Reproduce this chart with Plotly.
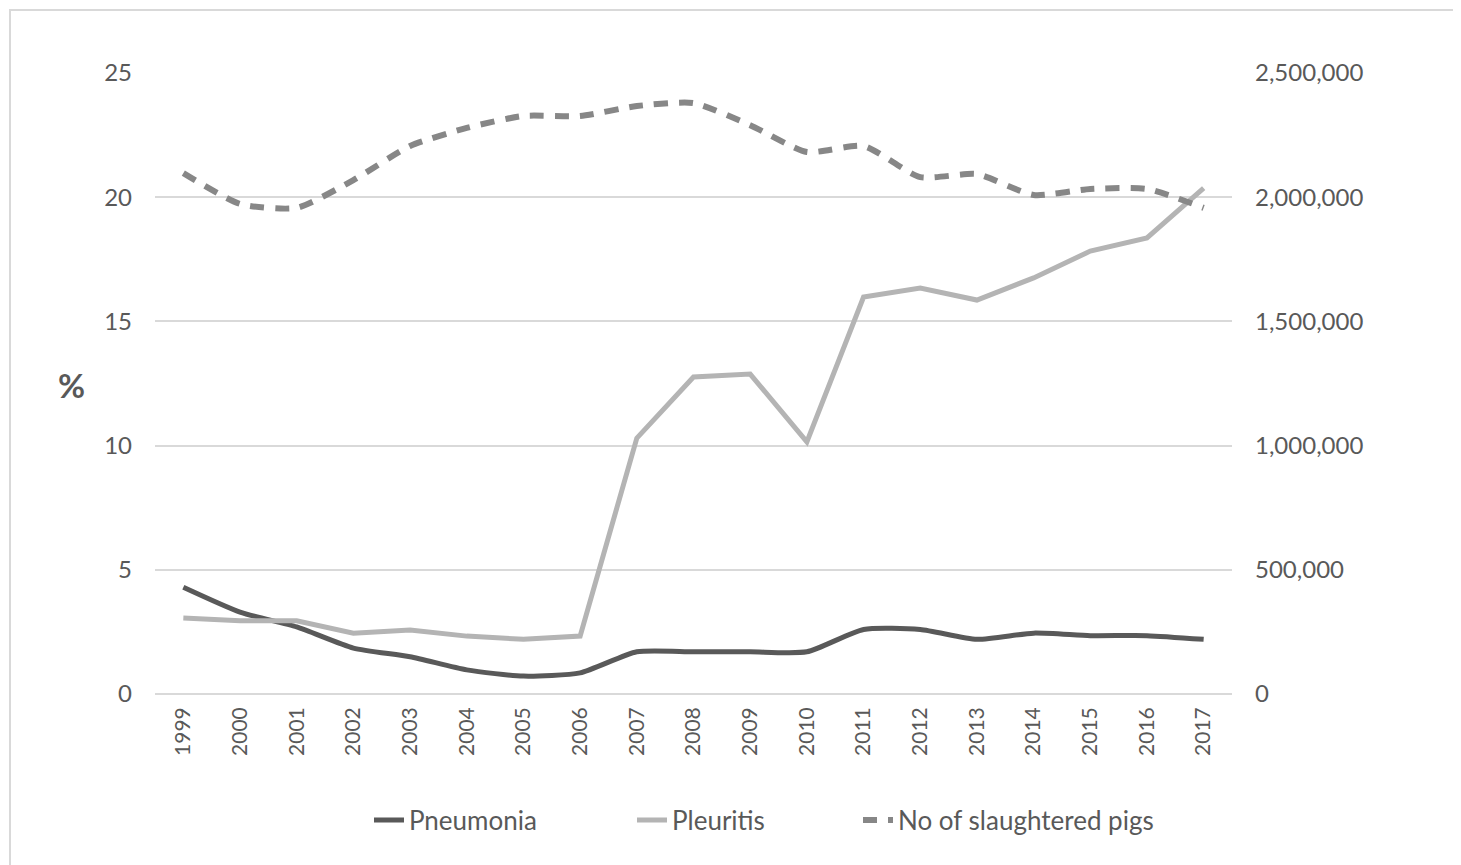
import plotly.graph_objects as go

years = [str(y) for y in range(1999, 2018)]
pneumonia = [4.3, 3.3, 2.7, 1.85, 1.5, 0.97, 0.72, 0.85, 1.7, 1.7, 1.7, 1.7, 2.6, 2.6, 2.2, 2.45, 2.35, 2.35, 2.2]
pleuritis = [3.06, 2.95, 2.95, 2.45, 2.58, 2.33, 2.2, 2.33, 10.3, 12.76, 12.88, 10.15, 15.98, 16.34, 15.86, 16.75, 17.83, 18.36, 20.37]
slaughtered = [2097000, 1973000, 1957000, 2069000, 2206000, 2279000, 2327000, 2327000, 2367000, 2379000,
               2290000, 2182000, 2206000, 2081000, 2093000, 2009000, 2033000, 2033000, 1957000]

OFF = 8  # page body margin
W, H = 1461 - OFF, 865 - OFF
L, R, T, B = 155 - OFF, 1232 - OFF, 73 - OFF, 694 - OFF
pw, ph = R - L, B - T

font = "Lato, 'Open Sans', sans-serif"
txt = "#595959"


def px2x(p):
    return (p - OFF - L) / pw


def py2y(p):
    return (B - (p - OFF)) / ph


fig = go.Figure()
fig.add_trace(go.Scatter(x=years, y=pneumonia, name="Pneumonia", mode="lines", legend="legend",
                         line=dict(color="#595959", width=5, shape="spline", smoothing=0.6)))
fig.add_trace(go.Scatter(x=years, y=pleuritis, name="Pleuritis", mode="lines", legend="legend2",
                         line=dict(color="#b4b4b4", width=5)))
fig.add_trace(go.Scatter(x=years, y=slaughtered, name="No of slaughtered pigs", mode="lines", yaxis="y2",
                         legend="legend3",
                         line=dict(color="#878787", width=6, dash="14px,11px", shape="spline", smoothing=0.6)))

leg_common = dict(orientation="h", xanchor="left", yanchor="middle", y=py2y(820),
                  font=dict(size=26, color=txt), bgcolor="rgba(0,0,0,0)")

fig.update_layout(
    width=W, height=H,
    margin=dict(l=L, r=W - R, t=T, b=H - B, autoexpand=False),
    paper_bgcolor="white", plot_bgcolor="white",
    font=dict(family=font, color=txt, size=24),
    showlegend=True,
    legend=dict(x=px2x(369), **leg_common),
    legend2=dict(x=px2x(632), **leg_common),
    legend3=dict(x=px2x(858), **leg_common),
    xaxis=dict(type="category", range=[-0.5, 18.5], tickangle=-90, showgrid=False,
               tickfont=dict(size=21, color=txt), ticks="", showline=False, zeroline=False,
               ticklabelstandoff=8),
    yaxis=dict(range=[0, 25], dtick=5, tick0=0, showgrid=True, gridcolor="#d9d9d9", gridwidth=2,
               zeroline=True, zerolinecolor="#d9d9d9", zerolinewidth=2, showline=False, ticks="",
               tickfont=dict(size=24, color=txt), ticklabelstandoff=22),
    yaxis2=dict(range=[0, 2500000], dtick=500000, tick0=0, overlaying="y", side="right",
                showgrid=False, zeroline=False, tickformat=",", ticks="",
                tickfont=dict(size=24, color=txt), ticklabelstandoff=22),
    shapes=[dict(type="rect", xref="paper", yref="paper",
                 x0=px2x(10), x1=px2x(1455), y0=py2y(880), y1=py2y(10),
                 line=dict(color="#d9d9d9", width=2), layer="above")],
    annotations=[dict(text="<b>%</b>", xref="paper", yref="paper", x=px2x(72), y=py2y(385),
                      showarrow=False, font=dict(size=33, color=txt), xanchor="center", yanchor="middle")],
)

fig.write_html("out.html")
